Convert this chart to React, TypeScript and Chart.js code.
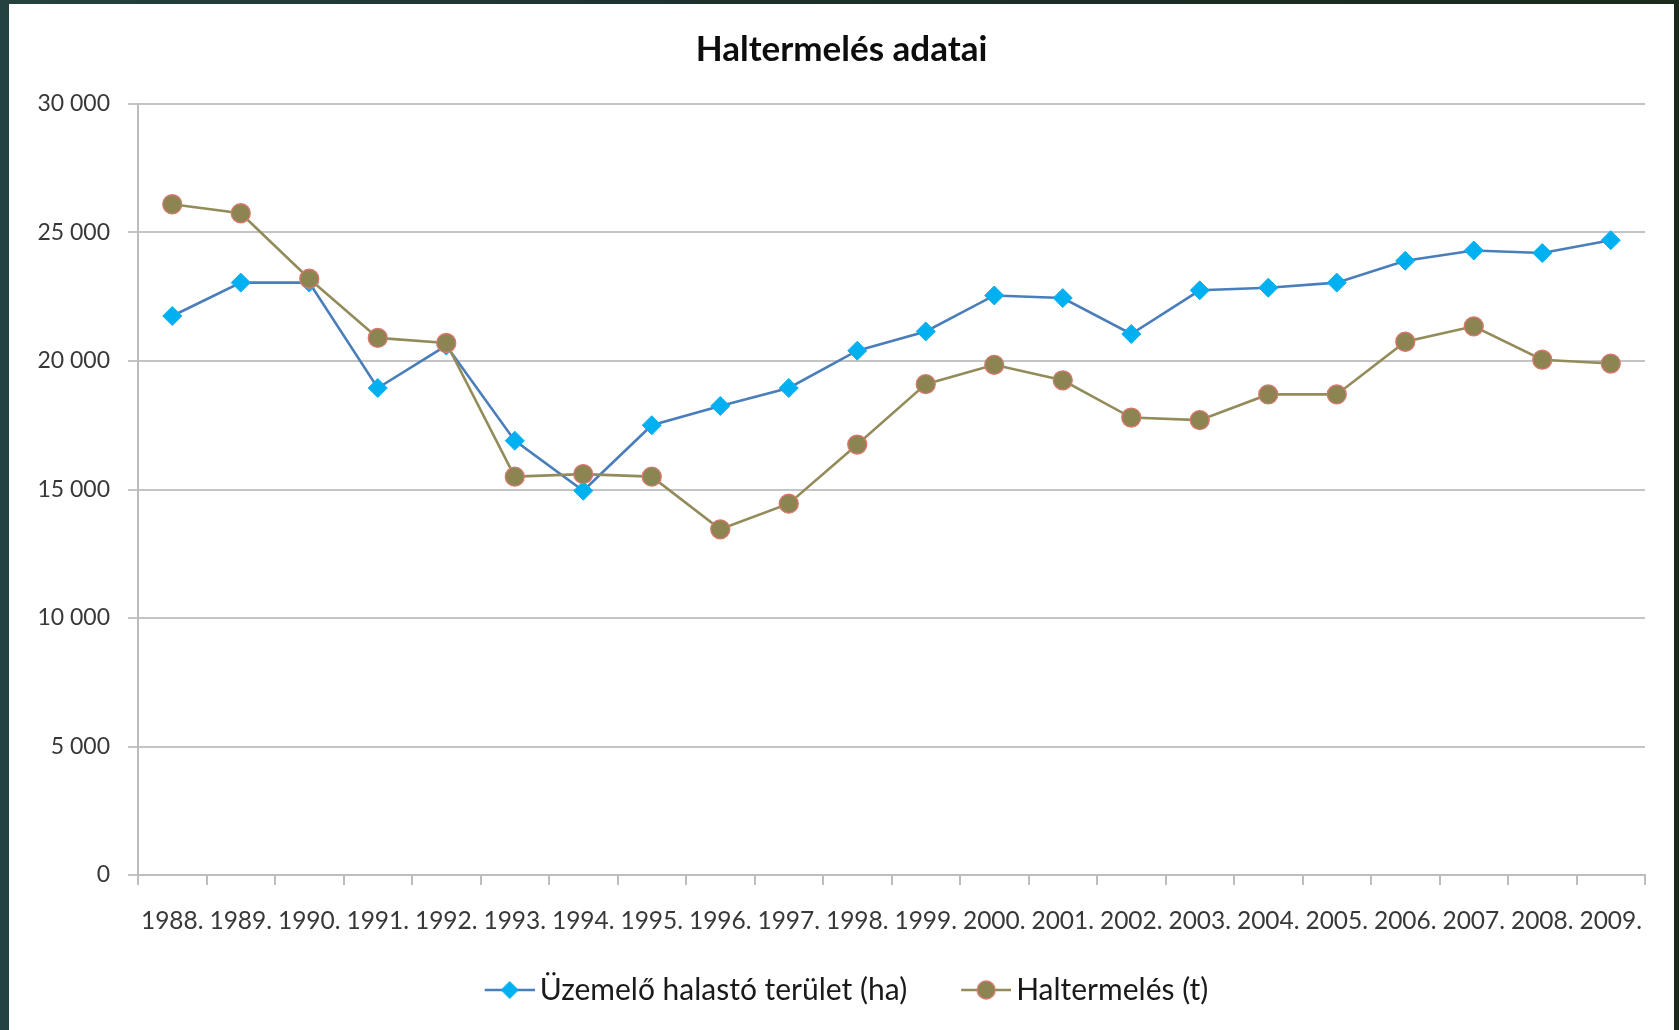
import React, { useEffect, useRef } from 'react';
import { Chart, registerables } from 'chart.js';

Chart.register(...registerables);

const chartTitle = 'Haltermelés adatai';
const years = [
  '1988.', '1989.', '1990.', '1991.', '1992.', '1993.', '1994.', '1995.', '1996.', '1997.', '1998.',
  '1999.', '2000.', '2001.', '2002.', '2003.', '2004.', '2005.', '2006.', '2007.', '2008.', '2009.',
];
const seriesNames = ['Üzemelő halastó terület (ha)', 'Haltermelés (t)'];
const uzemeloTerulet = [
  21750, 23050, 23050, 18950, 20600, 16900, 14950, 17500, 18250, 18950, 20400,
  21150, 22550, 22450, 21050, 22750, 22850, 23050, 23900, 24300, 24200, 24700,
];
const haltermeles = [
  26100, 25750, 23200, 20900, 20700, 15500, 15600, 15500, 13450, 14450, 16750,
  19100, 19850, 19250, 17800, 17700, 18700, 18700, 20750, 21350, 20050, 19900,
];
const yTickValues = [0, 5000, 10000, 15000, 20000, 25000, 30000];

const BLUE_LINE = '#4a7ebb';
const BLUE_MARK = '#00b0f0';
const OLIVE_LINE = '#938c5a';
const OLIVE_MARK = '#8c8552';
const OLIVE_EDGE = '#d9776f';
const FONT = 'Lato, "Open Sans", "DejaVu Sans", sans-serif';

function formatTick(v: number): string {
  if (v < 1000) return String(v);
  const th = Math.floor(v / 1000);
  const rest = String(v % 1000).padStart(3, '0');
  return th + ' ' + rest;
}

function makeIcon(kind: 'diamond' | 'circle'): HTMLCanvasElement {
  const c = document.createElement('canvas');
  c.width = 70;
  c.height = 24;
  const g = c.getContext('2d') as CanvasRenderingContext2D;
  g.lineWidth = 2.6;
  g.strokeStyle = kind === 'diamond' ? BLUE_LINE : OLIVE_LINE;
  g.beginPath();
  g.moveTo(20, 12);
  g.lineTo(70, 12);
  g.stroke();
  g.beginPath();
  if (kind === 'diamond') {
    g.fillStyle = BLUE_MARK;
    g.moveTo(45, 3);
    g.lineTo(54, 12);
    g.lineTo(45, 21);
    g.lineTo(36, 12);
    g.closePath();
    g.fill();
  } else {
    g.fillStyle = OLIVE_MARK;
    g.arc(45, 12, 9, 0, Math.PI * 2);
    g.fill();
    g.strokeStyle = OLIVE_EDGE;
    g.lineWidth = 1.3;
    g.stroke();
  }
  return c;
}

export default function App() {
  const ref = useRef<HTMLCanvasElement | null>(null);

  useEffect(() => {
    if (!ref.current) return;
    const icons = [makeIcon('diamond'), makeIcon('circle')];
    const chart = new Chart(ref.current, {
      type: 'line',
      data: {
        labels: years,
        datasets: [
          {
            label: seriesNames[0],
            data: uzemeloTerulet,
            borderColor: BLUE_LINE,
            borderWidth: 2.6,
            backgroundColor: BLUE_MARK,
            pointStyle: 'rectRot',
            pointRadius: 9.5,
            pointBackgroundColor: BLUE_MARK,
            pointBorderColor: BLUE_MARK,
            pointBorderWidth: 1,
            tension: 0,
            order: 2,
          },
          {
            label: seriesNames[1],
            data: haltermeles,
            borderColor: OLIVE_LINE,
            borderWidth: 2.6,
            backgroundColor: OLIVE_MARK,
            pointStyle: 'circle',
            pointRadius: 9.5,
            pointBackgroundColor: OLIVE_MARK,
            pointBorderColor: OLIVE_EDGE,
            pointBorderWidth: 1.3,
            tension: 0,
            order: 1,
          },
        ],
      },
      options: {
        responsive: false,
        animation: false,
        layout: { padding: { left: 0, right: 0, top: 0, bottom: 15 } },
        plugins: {
          title: {
            display: true,
            text: chartTitle,
            color: '#0d0d0d',
            font: { family: FONT, size: 35, weight: 'bold' },
            padding: { top: 25, bottom: 33 },
          },
          legend: {
            position: 'bottom',
            labels: {
              usePointStyle: true,
              pointStyleWidth: 50,
              color: '#1a1a1a',
              font: { family: FONT, size: 30 },
              padding: 44,
              generateLabels: (ch: any) => {
                const items = Chart.defaults.plugins.legend.labels.generateLabels(ch);
                items.sort((a: any, b: any) => a.datasetIndex - b.datasetIndex);
                items.forEach((it: any) => {
                  it.pointStyle = icons[it.datasetIndex];
                });
                return items;
              },
            },
          },
          tooltip: { enabled: false },
        },
        scales: {
          x: {
            offset: true,
            grid: {
              offset: true,
              drawOnChartArea: false,
              drawTicks: true,
              tickLength: 10,
              color: '#bdbdbd',
              lineWidth: 2,
            },
            border: { color: '#bdbdbd', width: 2 },
            ticks: {
              color: '#383838',
              font: { family: FONT, size: 24.5 },
              padding: 21,
              maxRotation: 0,
              autoSkip: false,
            },
            afterFit: (s: any) => {
              s.height = 56;
            },
          },
          y: {
            min: 0,
            max: 30000,
            afterBuildTicks: (s: any) => {
              s.ticks = yTickValues.map((v) => ({ value: v }));
            },
            grid: { color: '#c4c4c4', lineWidth: 2, tickLength: 10 },
            border: { color: '#bdbdbd', width: 2 },
            ticks: {
              color: '#383838',
              font: { family: FONT, size: 23 },
              padding: 18,
              callback: (v: any) => formatTick(Number(v)),
            },
            afterFit: (s: any) => {
              s.width = 129;
            },
          },
          yRight: {
            position: 'right',
            display: true,
            grid: { display: false },
            ticks: { display: false },
            border: { display: false },
            afterFit: (s: any) => {
              s.width = 29;
            },
          },
        },
      },
    });
    return () => chart.destroy();
  }, []);

  return (
    <div
      style={{
        position: 'fixed',
        left: 0,
        top: 0,
        width: 1679,
        height: 1030,
        background: 'linear-gradient(90deg, #24423f 0%, #1c2f2a 50%, #1b2a1c 100%)',
        overflow: 'hidden',
      }}
    >
      <div
        style={{
          position: 'absolute',
          left: 9,
          top: 4,
          width: 1665,
          height: 1026,
          background: '#ffffff',
        }}
      >
        <canvas ref={ref} width={1665} height={1026} style={{ display: 'block' }} />
      </div>
    </div>
  );
}
